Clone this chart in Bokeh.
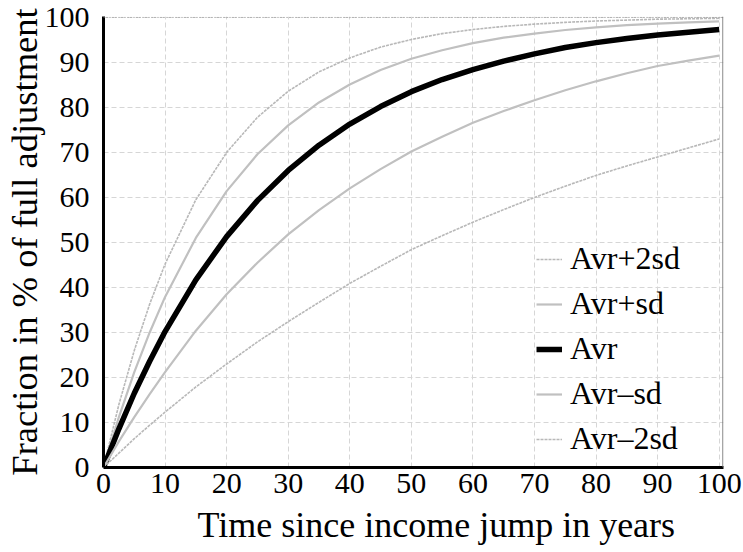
from bokeh.plotting import figure
from bokeh.models import Range1d, Span, Legend, LegendItem, Title
from bokeh.embed import file_html
from bokeh.resources import INLINE

# ---- data ----
years = [0, 2.5, 5, 7.5, 10, 15, 20, 25, 30, 35, 40, 45, 50, 55, 60, 65, 70, 75, 80, 85, 90, 95, 100]
avr_plus_2sd = [0, 14.0, 26.0, 36.3, 45.2, 59.5, 70.0, 77.8, 83.6, 87.9, 91.0, 93.4, 95.1, 96.4, 97.3,
                98.0, 98.5, 98.9, 99.2, 99.4, 99.6, 99.7, 99.8]
avr_plus_sd = [0, 11.2, 21.2, 30.0, 37.9, 51.0, 61.4, 69.6, 76.0, 81.1, 85.1, 88.3, 90.8, 92.7, 94.3,
               95.5, 96.4, 97.2, 97.8, 98.3, 98.6, 98.9, 99.1]
avr = [0, 8.6, 16.5, 23.6, 30.2, 41.7, 51.3, 59.3, 66.0, 71.6, 76.3, 80.2, 83.5, 86.2, 88.4,
       90.3, 91.9, 93.3, 94.4, 95.3, 96.1, 96.7, 97.3]
avr_minus_sd = [0, 5.8, 11.2, 16.3, 21.2, 30.4, 38.5, 45.5, 51.8, 57.2, 62.0, 66.3, 70.2, 73.5, 76.6,
                79.2, 81.6, 83.8, 85.8, 87.6, 89.2, 90.4, 91.5]
avr_minus_2sd = [0, 3.2, 6.4, 9.4, 12.3, 17.9, 23.0, 27.9, 32.4, 36.7, 40.9, 44.7, 48.4, 51.5, 54.5,
                 57.3, 60.0, 62.5, 64.9, 67.0, 69.0, 71.0, 73.0]
series_names = ["Avr+2sd", "Avr+sd", "Avr", "Avr\u2013sd", "Avr\u20132sd"]
x_ticks = [0, 10, 20, 30, 40, 50, 60, 70, 80, 90, 100]
y_ticks = [0, 10, 20, 30, 40, 50, 60, 70, 80, 90, 100]
x_title = "Time since income jump in years"
y_title = "Fraction in % of full adjustment"

FONT = "Liberation Serif"

p = figure(width=743, height=552, output_backend="svg", toolbar_location=None,
           x_range=Range1d(0, 100.7), y_range=Range1d(0, 100.2),
           min_border_left=103, min_border_right=20, min_border_top=16, min_border_bottom=84)
p.outline_line_color = None
p.background_fill_color = "white"
p.border_fill_color = "white"

for ax in (p.xaxis[0], p.yaxis[0]):
    ax.axis_line_width = 3
    ax.axis_line_color = "black"
    ax.major_tick_line_color = None
    ax.minor_tick_line_color = None
    ax.major_label_text_font = FONT
    ax.major_label_text_font_size = "30px"
    ax.major_label_text_color = "black"
p.xaxis.ticker = x_ticks
p.yaxis.ticker = y_ticks
p.xaxis.major_label_standoff = 0
p.yaxis.major_label_standoff = 8

p.yaxis.axis_label = y_title
p.yaxis.axis_label_text_font = FONT
p.yaxis.axis_label_text_font_size = "36.5px"
p.yaxis.axis_label_text_font_style = "normal"
p.yaxis.axis_label_text_color = "black"
p.yaxis.axis_label_standoff = -3

p.add_layout(Title(text=x_title, align="left", offset=94, text_font=FONT,
                   text_font_size="36px", text_font_style="normal", text_color="black",
                   standoff=15), "below")

p.grid.grid_line_color = "#d6d6d6"
p.grid.grid_line_dash = "5 3"
p.grid.grid_line_width = 1

# frame top (dotted) and right border
p.add_layout(Span(location=100, dimension="width", line_color="#8c8c8c", line_dash="1 2", line_width=1))
p.add_layout(Span(location=100.6, dimension="height", line_color="#707070", line_width=1))

styles = [
    dict(line_color="#b8b8b8", line_width=1.6, line_dash="3 1"),
    dict(line_color="#c0c0c0", line_width=2.2),
    dict(line_color="black", line_width=5.5),
    dict(line_color="#c0c0c0", line_width=2.2),
    dict(line_color="#b8b8b8", line_width=1.6, line_dash="3 1"),
]
series = [avr_plus_2sd, avr_plus_sd, avr, avr_minus_sd, avr_minus_2sd]
renderers = []
for vals, st in zip(series, styles):
    renderers.append(p.line(years, vals, **st))

legend = Legend(items=[LegendItem(label=n, renderers=[r]) for n, r in zip(series_names, renderers)],
                location=(433, 10), border_line_color=None, background_fill_alpha=0,
                label_text_font=FONT, label_text_font_size="32px", label_text_color="black",
                glyph_width=26, glyph_height=36, label_height=36, spacing=8, padding=0, margin=0,
                label_standoff=8)
p.add_layout(legend)

open("out.html", "w").write(file_html(p, INLINE))
